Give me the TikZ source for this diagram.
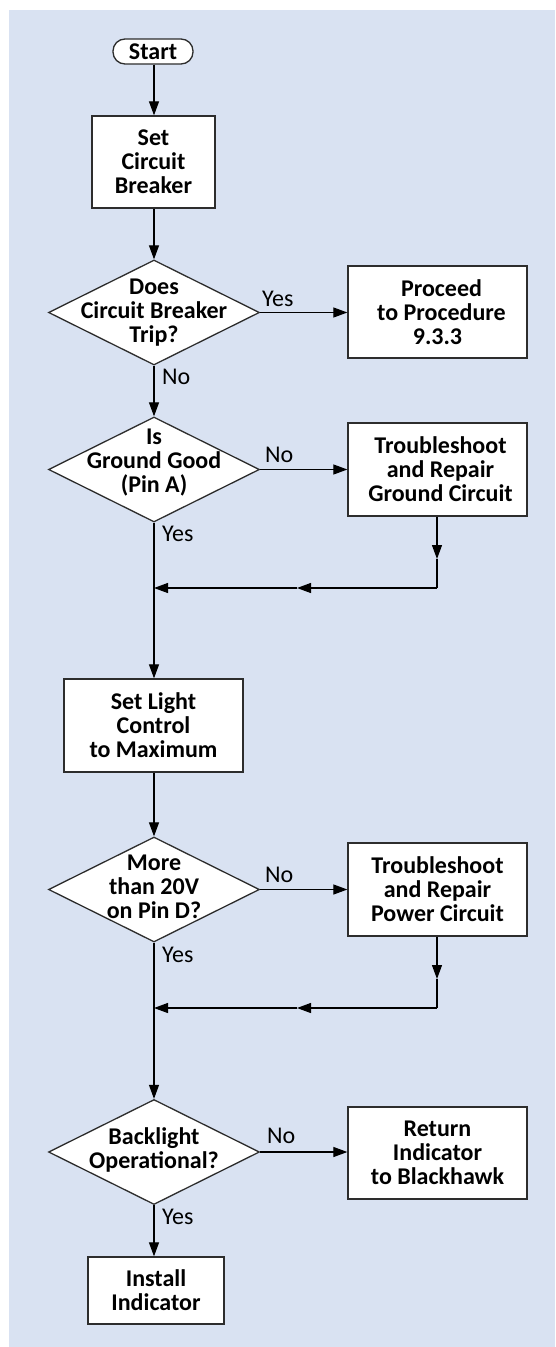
\documentclass[tikz,border=0pt]{standalone}
\usepackage{fontspec}
\setmainfont{Carlito}
\usetikzlibrary{shapes.geometric,arrows.meta}
\definecolor{bgblue}{RGB}{217,226,242}
\definecolor{edgec}{RGB}{45,45,45}
\newcommand\myfs{\fontsize{24}{24}\selectfont}
\begin{document}
\begin{tikzpicture}[x=1pt,y=-1pt,
  box/.style={draw=edgec,line width=1.3pt,fill=white,inner sep=0pt,align=center,font=\bfseries\myfs,minimum width=179pt,minimum height=93pt},
  dia/.style={diamond,draw=edgec,line width=1.3pt,fill=white,inner sep=0pt,minimum width=211pt,minimum height=105pt},
  dtext/.style={align=center,font=\bfseries\myfs,inner sep=0pt},
  lab/.style={font=\myfs,anchor=base west,inner sep=0pt},
  arr/.style={line width=1.2pt,-{Triangle[length=14pt,width=10pt]}},
  ln/.style={line width=1.2pt}]
\useasboundingbox (0,0) rectangle (555,1347);
\fill[bgblue] (9,10) rectangle (555,1347);

% nodes
\node[draw=edgec,line width=1.3pt,fill=white,rounded corners=12pt,minimum width=80pt,minimum height=25pt,inner sep=0pt,font=\bfseries\myfs] (start) at (153,51.5) {Start\hspace{13pt}};
\node[box,minimum width=123pt,minimum height=92pt] (scb) at (153.5,162) {Set\\Circuit\\Breaker};
\node[dia] (d1) at (154,312.5) {};
\node[dtext] (t1) at (d1) {Does\\Circuit Breaker\\Trip?};
\node[box,minimum height=92pt] (proc) at (437.5,312) {\hspace{8pt}Proceed\\\hspace{8pt}to Procedure\\9.3.3};
\node[dia] (d2) at (154,469.5) {};
\node[dtext,yshift=7pt] (t2) at (d2) {Is\\Ground Good\\(Pin A)};
\node[box] (gnd) at (437.5,469.5) {\hspace{6pt}Troubleshoot\\\hspace{6pt}and Repair\\\hspace{6pt}Ground Circuit};
\node[box] (light) at (153.5,725.5) {Set Light\\Control\\to Maximum};
\node[dia] (d3) at (154,889.5) {};
\node[dtext,yshift=3pt] (t3) at (d3) {More\\than 20V\\on Pin D?};
\node[box] (pwr) at (437.5,889.5) {Troubleshoot\\and Repair\\Power Circuit};
\node[dia] (d4) at (154,1152) {};
\node[dtext,yshift=2pt] (t4) at (d4) {Backlight\\Operational?};
\node[box,minimum height=92pt] (ret) at (437.5,1153) {Return\\Indicator\\to Blackhawk};
\node[box,minimum width=136pt,minimum height=67pt] (inst) at (156,1290.5) {Install\\Indicator};

% join points
\coordinate (ga) at (437,559);
\coordinate (gb) at (437,588);
\coordinate (gc) at (297,588);
\coordinate (j1) at (154,588);
\coordinate (pa) at (437,979);
\coordinate (pb) at (437,1008);
\coordinate (pc) at (297,1008);
\coordinate (j2) at (154,1008);

% connectors
\draw[arr] (start.south -| d1.north) -- (d1.north |- scb.north);
\draw[arr] (scb.south -| d1.north) -- (d1.north);
\draw[arr] (d1.east) -- (d1.east -| proc.west);
\draw[arr] (d1.south) -- (d2.north);
\draw[arr] (d2.east) -- (d2.east -| gnd.west);
\draw[arr] (d2.south) -- (d2.south |- light.north);
\draw[arr] (ga |- gnd.south) -- (ga);
\draw[ln] (ga) -- (gb);
\draw[arr] (gb) -- (gc);
\draw[arr] (gc) -- (j1);
\draw[arr] (d3.north |- light.south) -- (d3.north);
\draw[arr] (d3.east) -- (d3.east -| pwr.west);
\draw[arr] (d3.south) -- (d4.north);
\draw[arr] (pa |- pwr.south) -- (pa);
\draw[ln] (pa) -- (pb);
\draw[arr] (pb) -- (pc);
\draw[arr] (pc) -- (j2);
\draw[arr] (d4.east) -- (d4.east -| ret.west);
\draw[arr] (d4.south) -- (d4.south |- inst.north);

% labels
\node[lab] (l1) at (262,306) {Yes};
\node[lab] (l2) at (162,384) {No};
\node[lab] (l3) at (265,462) {No};
\node[lab] (l4) at (162,541) {Yes};
\node[lab] (l5) at (265,882) {No};
\node[lab] (l6) at (162,962) {Yes};
\node[lab] (l7) at (267,1143) {No};
\node[lab] (l8) at (162,1224) {Yes};
\end{tikzpicture}
\end{document}
